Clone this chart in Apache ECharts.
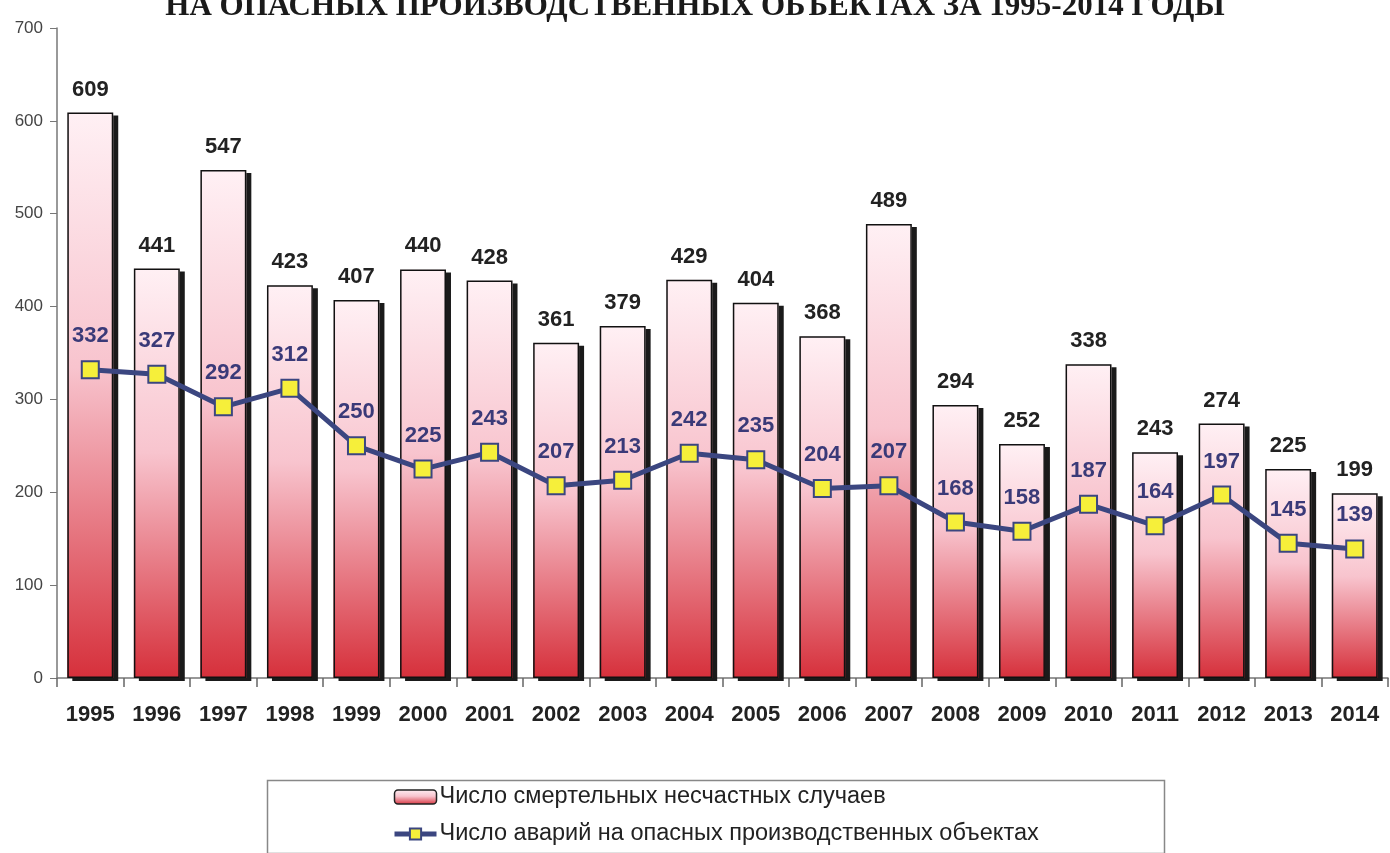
<!DOCTYPE html>
<html><head><meta charset="utf-8">
<script src="https://cdn.jsdelivr.net/npm/echarts@6/dist/echarts.min.js"></script>
<style>html,body{margin:0;padding:0;background:#fff}#c{width:1390px;height:853px}</style>
</head><body><div id="c"></div>
<script>
const titleText = 'НА ОПАСНЫХ ПРОИЗВОДСТВЕННЫХ ОБЪЕКТАХ ЗА 1995-2014 ГОДЫ';
const years = ['1995','1996','1997','1998','1999','2000','2001','2002','2003','2004','2005','2006','2007','2008','2009','2010','2011','2012','2013','2014'];
const deaths = [609,441,547,423,407,440,428,361,379,429,404,368,489,294,252,338,243,274,225,199];
const accidents = [332,327,292,312,250,225,243,207,213,242,235,204,207,168,158,187,164,197,145,139];
const seriesNames = ['Число смертельных несчастных случаев','Число аварий на опасных производственных объектах'];
const yTicks = {min:0, max:700, interval:100};

const font = '"Liberation Sans", Arial, sans-serif';
const chart = echarts.init(document.getElementById('c'));
const barGrad = new echarts.graphic.LinearGradient(0,0,0,1,[
  {offset:0,color:'#fff0f4'},{offset:0.45,color:'#f8c4ce'},{offset:1,color:'#d6303b'}]);
chart.setOption({
  animation:false,
  backgroundColor:'#fff',
  title:{text:titleText,left:'center',top:-14,textStyle:{fontFamily:'"Liberation Serif", "Times New Roman", serif',fontWeight:'bold',fontSize:31,color:'#1a1a1a'}},
  grid:{left:57,right:2,top:28,bottom:175},
  legend:{
    orient:'vertical',left:392,top:785,padding:0,itemWidth:42,itemHeight:14,itemGap:13,
    textStyle:{fontFamily:font,fontSize:23.5,lineHeight:23,color:'#222',padding:[0,0,0,-2]},
    data:[{name:seriesNames[0],itemStyle:{borderColor:'#222',borderWidth:1.5}},
          {name:seriesNames[1],lineStyle:{width:5}}]
  },
  graphic:[{type:'rect',left:265,top:778,shape:{width:897,height:73},style:{fill:'none',stroke:'#888',lineWidth:1.5},silent:true}],
  xAxis:{type:'category',data:years,
    axisLine:{lineStyle:{color:'#777',width:1.5}},
    axisTick:{show:true,length:9,lineStyle:{color:'#666',width:1.5}},
    axisLabel:{fontFamily:font,fontWeight:'bold',fontSize:22,color:'#222',margin:26}},
  yAxis:{type:'value',min:yTicks.min,max:yTicks.max,interval:yTicks.interval,
    splitLine:{show:false},
    axisLine:{show:true,lineStyle:{color:'#777',width:1.5}},
    axisTick:{show:true,length:7,lineStyle:{color:'#777'}},
    axisLabel:{fontFamily:font,fontSize:17,color:'#444',margin:14}},
  series:[
    {name:seriesNames[0],type:'bar',data:deaths,barCategoryGap:'31%',
      itemStyle:{color:barGrad,shadowColor:'#1a1a1a',shadowOffsetX:5,shadowOffsetY:3,shadowBlur:0},
      label:{show:true,position:'top',distance:12,fontFamily:font,fontWeight:'bold',fontSize:22,color:'#222'}},
    {name:'outline',type:'bar',data:deaths,barCategoryGap:'31%',barGap:'-100%',z:3,silent:true,
      itemStyle:{color:'rgba(0,0,0,0)',borderColor:'#111',borderWidth:1.5}},
    {name:seriesNames[1],type:'line',data:accidents,z:5,
      lineStyle:{color:'#3b4680',width:5},
      symbol:'rect',symbolSize:17,
      itemStyle:{color:'#f6ef3a',borderColor:'#3b4680',borderWidth:2},
      label:{show:true,position:'top',distance:13,fontFamily:font,fontWeight:'bold',fontSize:22,color:'#3a3a78'}}
  ]
});
</script></body></html>
